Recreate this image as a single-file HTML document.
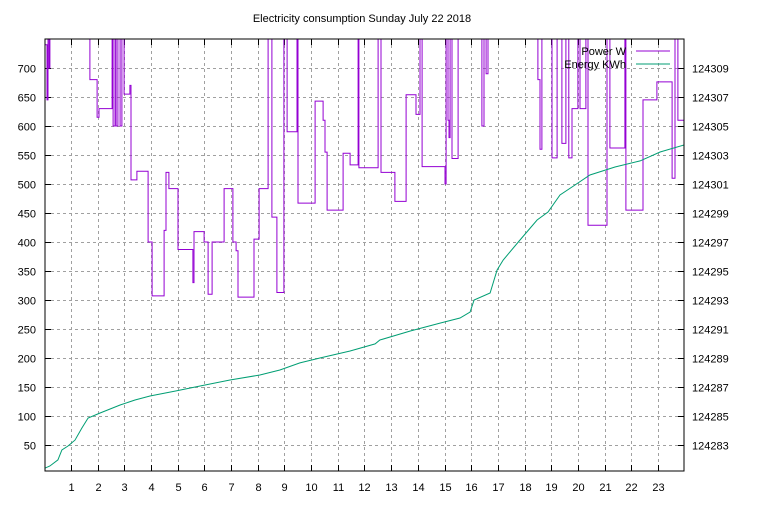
<!DOCTYPE html>
<html><head><meta charset="utf-8"><style>
body{margin:0;background:#fff}
svg text{font-family:"Liberation Sans",sans-serif;font-size:11px;fill:#000}
</style></head><body>
<svg id="chart" width="768" height="500" xmlns="http://www.w3.org/2000/svg">
<text x="362" y="22" text-anchor="middle">Electricity consumption Sunday July 22 2018</text>
<g id="grid"></g>
<g id="axes"></g>
<defs><clipPath id="clip"><rect x="45" y="39" width="639" height="432"/></clipPath></defs>
<g clip-path="url(#clip)">
<path id="power" fill="none" stroke="#9400d3" stroke-width="1"/>
<path id="energy" fill="none" stroke="#009e73" stroke-width="1"/>
</g>
<rect x="45" y="39" width="639" height="432" fill="none" stroke="#000" stroke-width="1"/>
<g>
<text x="626" y="55" text-anchor="end">Power W</text>
<line x1="636" y1="51" x2="670" y2="51" stroke="#9400d3"/>
<text x="626" y="68" text-anchor="end">Energy KWh</text>
<line x1="636" y1="64" x2="670" y2="64" stroke="#009e73"/>
</g>
</svg>
<script>
const xTicks=[1,2,3,4,5,6,7,8,9,10,11,12,13,14,15,16,17,18,19,20,21,22,23];
const yTicks=[50,100,150,200,250,300,350,400,450,500,550,600,650,700];
const y2Ticks=[124283,124285,124287,124289,124291,124293,124295,124297,124299,124301,124303,124305,124307,124309];
const powerHours=[0,0.10,0.14,0.18,0.21,1.71,1.98,2.05,2.54,2.58,2.65,2.69,2.76,2.84,2.91,2.99,3.21,3.25,3.47,3.89,4.04,4.49,4.56,4.67,5.01,5.57,5.61,5.99,6.14,6.29,6.74,7.07,7.19,7.26,7.86,8.05,8.39,8.53,8.72,8.98,9.10,9.47,9.51,10.15,10.45,10.52,10.60,11.20,11.46,11.76,11.79,12.51,12.62,13.14,13.56,13.93,14.08,14.16,15.02,15.06,15.13,15.17,15.21,15.28,15.51,16.40,16.48,16.56,16.63,18.50,18.58,18.65,19.03,19.22,19.40,19.55,19.66,19.78,20.00,20.08,20.30,20.38,21.09,21.20,21.76,21.80,22.44,22.96,23.53,23.64,23.75];
const powerWatts=[740,645,760,700,760,680,615,630,760,600,760,600,760,600,760,655,670,507,522,400,307,420,520,492,387,330,418,400,310,400,492,400,385,305,405,492,760,443,313,760,590,760,467,643,610,555,455,553,533,760,528,760,520,470,654,620,760,530,500,760,610,580,760,544,760,600,760,690,760,680,560,760,545,760,570,760,545,630,760,630,760,429,760,562,760,455,645,676,510,760,610];
const energyHours=[0.03,0.21,0.51,0.66,0.89,1.15,1.41,1.64,2.09,2.84,3.40,3.96,4.90,5.84,6.96,8.08,8.83,9.58,10.33,11.46,12.40,12.58,13.72,14.83,15.58,15.96,16.11,16.71,16.97,17.20,17.83,18.47,18.88,19.33,19.89,20.45,21.39,22.33,23.08,23.98];
const energyKWh=[124281.41,124281.55,124281.97,124282.66,124282.93,124283.34,124284.17,124284.86,124285.21,124285.76,124286.10,124286.38,124286.72,124287.07,124287.48,124287.83,124288.17,124288.66,124289.00,124289.48,124289.97,124290.24,124290.86,124291.41,124291.76,124292.17,124293.00,124293.48,124295.07,124295.76,124297.14,124298.52,124299.07,124300.24,124300.93,124301.62,124302.17,124302.59,124303.21,124303.69];
const xS=h=>44.3+h*26.68;
const yS=v=>474-v*0.58;
const y2S=v=>445-(v-124283)*14.5;
const NS='http://www.w3.org/2000/svg';
const grid=document.getElementById('grid'),axes=document.getElementById('axes');
function mk(tag,attrs,parent){const e=document.createElementNS(NS,tag);for(const k in attrs)e.setAttribute(k,attrs[k]);parent.appendChild(e);return e;}
xTicks.forEach(t=>{const x=Math.round(xS(t))+0.5;
 const g=mk('line',{x1:x,y1:39,x2:x,y2:471,stroke:'#a0a0a0','stroke-dasharray':'3,3'},grid);
 
 const a=mk('path',{d:`M${x},471v-6M${x},39v6`,stroke:'#000'},axes);
 
 const l=mk('text',{x:x,y:491,'text-anchor':'middle'},axes);l.textContent=t;
 });
yTicks.forEach(t=>{const y=Math.round(yS(t))+0.5;
 const g=mk('line',{x1:45,y1:y,x2:684,y2:y,stroke:'#a0a0a0','stroke-dasharray':'3,3'},grid);
 
 const a=mk('path',{d:`M45,${y}h6`,stroke:'#000'},axes);
 
 const l=mk('text',{x:36,y:y+4,'text-anchor':'end'},axes);l.textContent=t;
 });
y2Ticks.forEach(t=>{const y=Math.round(y2S(t))+0.5;
 const a=mk('path',{d:`M684,${y}h-6`,stroke:'#000'},axes);
 
 const l=mk('text',{x:692,y:y+4},axes);l.textContent=t;
 });
let d='';powerHours.forEach((h,i)=>{const x=xS(h).toFixed(1),y=yS(powerWatts[i]).toFixed(1);
 d+=(i?`H${x}V${y}`:`M${x},${y}`);});
d+=`H${xS(24).toFixed(1)}`;
document.getElementById('power').setAttribute('d',d);
let e='';energyHours.forEach((h,i)=>{e+=(i?'L':'M')+xS(h).toFixed(1)+','+y2S(energyKWh[i]).toFixed(1);});
document.getElementById('energy').setAttribute('d',e);
</script>
</body></html>
